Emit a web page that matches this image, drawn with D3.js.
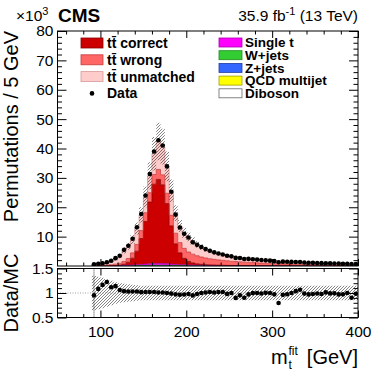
<!DOCTYPE html>
<html>
<head>
<meta charset="utf-8">
<script src="https://cdn.jsdelivr.net/npm/d3@7"></script>
<style>
body { margin: 0; background: #fff; }
svg { display: block; font-family: "Liberation Sans", Arial, Helvetica, sans-serif; }
</style>
</head>
<body>
<svg id="chart" width="374" height="379"></svg>
<script>
// binning of m_t^fit (GeV), values in units of 10^3 permutations
var binLow = 90, binWidth = 5;

var dataVals = [0.60, 0.78, 0.96, 1.29, 1.79, 2.68, 3.50, 5.50, 6.90, 9.27,
    13.2, 17.7, 24.0, 31.3, 39.0, 42.8, 41.0, 33.9, 25.3, 17.5,
    13.1, 10.96, 9.70, 8.08, 7.20, 6.45, 5.76, 5.20, 4.65, 4.28,
    3.93, 3.48, 3.28, 2.75, 2.70, 2.39, 2.41, 2.32, 2.18, 2.03,
    1.93, 1.82, 1.67, 1.30, 1.48, 1.43, 1.39, 1.37, 1.34, 1.19,
    1.11, 1.07, 1.03, 0.97, 0.96, 0.90, 0.87, 0.81, 0.78, 0.77,
    0.67, 0.70];

var ttCorrect = [0.01, 0.01, 0.02, 0.03, 0.05, 0.08, 0.15, 0.40, 1.00, 2.30,
    4.60, 8.80, 14.5, 21.0, 27.0, 28.6, 26.8, 20.5, 13.0, 7.00,
    4.00, 2.20, 1.20, 0.70, 0.45, 0.30, 0.20, 0.15, 0.12, 0.10,
    0.08, 0.06, 0.05, 0.04, 0.03, 0.02, 0.02, 0.02, 0.02, 0.02,
    0.01, 0.01, 0.01, 0.01, 0.01, 0.01, 0.01, 0.01, 0.01, 0.01,
    0.01, 0.01, 0.01, 0.01, 0.01, 0.01, 0.01, 0.01, 0.01, 0.01,
    0.01, 0.01];

var ttWrong = [0.10, 0.12, 0.15, 0.20, 0.30, 0.45, 0.65, 0.95, 1.30, 1.80,
    2.30, 2.70, 3.00, 3.20, 3.30, 3.40, 3.40, 3.50, 3.60, 3.60,
    3.50, 3.40, 3.20, 3.00, 2.75, 2.50, 2.30, 2.10, 1.95, 1.80,
    1.68, 1.57, 1.45, 1.36, 1.27, 1.19, 1.11, 1.04, 0.97, 0.91,
    0.85, 0.80, 0.75, 0.70, 0.66, 0.62, 0.58, 0.55, 0.52, 0.49,
    0.46, 0.43, 0.41, 0.39, 0.37, 0.35, 0.33, 0.31, 0.30, 0.28,
    0.27, 0.26];

var ttUnmatched = [0.49, 0.56, 0.61, 0.78, 1.18, 1.72, 2.35, 3.75, 4.14, 4.55,
    5.46, 5.35, 5.35, 5.75, 7.06, 9.53, 9.56, 9.15, 8.35, 6.85,
    5.64, 5.29, 5.14, 4.48, 3.86, 3.39, 2.97, 2.65, 2.34, 2.13,
    1.93, 1.77, 1.65, 1.53, 1.42, 1.33, 1.25, 1.17, 1.10, 1.04,
    0.99, 0.94, 0.89, 0.86, 0.81, 0.78, 0.75, 0.71, 0.68, 0.66,
    0.63, 0.61, 0.58, 0.55, 0.53, 0.51, 0.50, 0.48, 0.46, 0.45,
    0.43, 0.41];

var singleT = [0.02, 0.02, 0.03, 0.03, 0.05, 0.07, 0.10, 0.14, 0.18, 0.24,
    0.30, 0.38, 0.45, 0.52, 0.58, 0.60, 0.58, 0.52, 0.45, 0.38,
    0.32, 0.28, 0.25, 0.22, 0.20, 0.18, 0.16, 0.14, 0.13, 0.12,
    0.11, 0.10, 0.09, 0.085, 0.08, 0.075, 0.07, 0.065, 0.06, 0.056,
    0.052, 0.049, 0.046, 0.043, 0.040, 0.038, 0.036, 0.034, 0.032, 0.031,
    0.030, 0.029, 0.028, 0.027, 0.026, 0.025, 0.024, 0.023, 0.022, 0.021,
    0.021, 0.020];

var wJets = [0.004, 0.004, 0.006, 0.006, 0.010, 0.014, 0.020, 0.028, 0.036, 0.048,
    0.060, 0.076, 0.090, 0.104, 0.116, 0.120, 0.116, 0.104, 0.090, 0.076,
    0.064, 0.056, 0.050, 0.044, 0.040, 0.036, 0.032, 0.028, 0.026, 0.024,
    0.022, 0.020, 0.018, 0.017, 0.016, 0.015, 0.014, 0.013, 0.012, 0.011,
    0.010, 0.010, 0.009, 0.009, 0.008, 0.008, 0.007, 0.007, 0.006, 0.006,
    0.006, 0.006, 0.006, 0.005, 0.005, 0.005, 0.005, 0.005, 0.004, 0.004,
    0.004, 0.004];

var zJets = [0.002, 0.002, 0.002, 0.002, 0.004, 0.006, 0.008, 0.011, 0.014, 0.019,
    0.024, 0.030, 0.036, 0.042, 0.046, 0.048, 0.046, 0.042, 0.036, 0.030,
    0.026, 0.022, 0.020, 0.018, 0.016, 0.014, 0.013, 0.011, 0.010, 0.010,
    0.009, 0.008, 0.007, 0.007, 0.006, 0.006, 0.006, 0.005, 0.005, 0.004,
    0.004, 0.004, 0.004, 0.003, 0.003, 0.003, 0.003, 0.003, 0.003, 0.002,
    0.002, 0.002, 0.002, 0.002, 0.002, 0.002, 0.002, 0.002, 0.002, 0.002,
    0.002, 0.002];

var qcd = [0.003, 0.003, 0.005, 0.005, 0.008, 0.010, 0.015, 0.020, 0.027, 0.036,
    0.045, 0.057, 0.068, 0.078, 0.087, 0.090, 0.087, 0.078, 0.068, 0.057,
    0.048, 0.042, 0.038, 0.033, 0.030, 0.027, 0.024, 0.021, 0.020, 0.018,
    0.017, 0.015, 0.014, 0.013, 0.012, 0.011, 0.011, 0.010, 0.009, 0.008,
    0.008, 0.007, 0.007, 0.006, 0.006, 0.006, 0.005, 0.005, 0.005, 0.005,
    0.004, 0.004, 0.004, 0.004, 0.004, 0.004, 0.004, 0.003, 0.003, 0.003,
    0.003, 0.003];

var diboson = [0.001, 0.001, 0.001, 0.001, 0.001, 0.002, 0.002, 0.003, 0.004, 0.005,
    0.006, 0.008, 0.009, 0.010, 0.012, 0.012, 0.012, 0.010, 0.009, 0.008,
    0.006, 0.006, 0.005, 0.004, 0.004, 0.004, 0.003, 0.003, 0.003, 0.002,
    0.002, 0.002, 0.002, 0.002, 0.002, 0.002, 0.001, 0.001, 0.001, 0.001,
    0.001, 0.001, 0.001, 0.001, 0.001, 0.001, 0.001, 0.001, 0.001, 0.001,
    0.001, 0.001, 0.001, 0.001, 0.001, 0.001, 0.001, 0.001, 0.001, 0.001,
    0.001, 0.001];

// relative uncertainty of the simulation (hatched band)
var systUnc = [0.35, 0.33, 0.31, 0.28, 0.25, 0.22, 0.20, 0.19, 0.18, 0.17,
    0.16, 0.15, 0.15, 0.15, 0.15, 0.15, 0.15, 0.15, 0.15, 0.15,
    0.15, 0.15, 0.15, 0.15, 0.15, 0.15, 0.15, 0.15, 0.15, 0.15,
    0.15, 0.15, 0.15, 0.15, 0.15, 0.15, 0.15, 0.15, 0.15, 0.15,
    0.15, 0.15, 0.15, 0.15, 0.15, 0.15, 0.15, 0.15, 0.15, 0.15,
    0.15, 0.15, 0.15, 0.15, 0.15, 0.15, 0.15, 0.15, 0.15, 0.15,
    0.15, 0.15];

// error on data/MC
var ratioErr = [0.9, 0.05, 0.04, 0.03, 0.02, 0.02, 0.02, 0.01, 0.01, 0.01,
    0.01, 0.01, 0.01, 0.01, 0.01, 0.01, 0.01, 0.01, 0.01, 0.01,
    0.01, 0.01, 0.01, 0.01, 0.01, 0.01, 0.01, 0.01, 0.01, 0.01,
    0.01, 0.01, 0.01, 0.01, 0.01, 0.01, 0.01, 0.01, 0.01, 0.01,
    0.01, 0.01, 0.01, 0.02, 0.02, 0.02, 0.02, 0.02, 0.02, 0.02,
    0.02, 0.02, 0.02, 0.02, 0.02, 0.02, 0.02, 0.02, 0.02, 0.02,
    0.02, 0.02];

var xMajor = [100, 200, 300, 400];
var yMajor = [10, 20, 30, 40, 50, 60, 70, 80];
var ratioMajor = [0.5, 1, 1.5];

var keys = ["diboson", "qcd", "zJets", "wJets", "singleT", "ttCorrect", "ttWrong", "ttUnmatched"];
var series = {
    ttCorrect: ttCorrect, ttWrong: ttWrong, ttUnmatched: ttUnmatched, singleT: singleT,
    wJets: wJets, zJets: zJets, qcd: qcd, diboson: diboson
};
var fills = {
    ttCorrect: "#cc0000", ttWrong: "#ff6666", ttUnmatched: "#ffcccc", singleT: "#ff00ff",
    wJets: "#33cc33", zJets: "#3366ff", qcd: "#ffff00", diboson: "#ffffff"
};
var strokes = {
    ttCorrect: "#8a0000", ttWrong: "#c83a3a", ttUnmatched: "#d89a9a", singleT: "#aa00aa",
    wJets: "#1c8a1c", zJets: "#1f3fa0", qcd: "#a0a000", diboson: "#666666"
};

var rows = dataVals.map(function (d, i) {
    var r = {lo: binLow + i * binWidth, data: d};
    keys.forEach(function (k) { r[k] = series[k][i]; });
    r.mc = d3.sum(keys, function (k) { return series[k][i]; });
    r.unc = systUnc[i];
    r.rerr = ratioErr[i];
    return r;
});
var binHigh = binLow + rows.length * binWidth;

var svg = d3.select("#chart");
var left = 57.5, right = 358;
var fontFam = "Liberation Sans, Arial, sans-serif";

var x = d3.scaleLinear().domain([50, 400]).range([left, right]);
var y = d3.scaleLinear().domain([0, 80]).range([266, 31]);
var yr = d3.scaleLinear().domain([0.5, 1.5]).range([317.5, 268.5]);

var defs = svg.append("defs");
defs.append("pattern")
    .attr("id", "hatch")
    .attr("patternUnits", "userSpaceOnUse")
    .attr("width", 3).attr("height", 3)
    .append("path")
    .attr("d", "M-1,1 l2,-2 M0,3 l3,-3 M2,4 l2,-2")
    .attr("stroke", "#333")
    .attr("stroke-width", 0.6);
defs.append("clipPath").attr("id", "clipTop")
    .append("rect").attr("x", left).attr("y", 31).attr("width", right - left).attr("height", 235);
defs.append("clipPath").attr("id", "clipRatio")
    .append("rect").attr("x", left).attr("y", 268.5).attr("width", right - left).attr("height", 49);

// step points with an extra point at the last upper edge
function stepPoints(fn) {
    var pts = rows.map(function (r, i) { return fn(r, i, r.lo); });
    var last = rows[rows.length - 1];
    pts.push(fn(last, rows.length - 1, binHigh));
    return pts;
}

// ---- upper panel ----
var gTop = svg.append("g").attr("clip-path", "url(#clipTop)");
var stacked = d3.stack().keys(keys)(rows);

var band = d3.area().curve(d3.curveStepAfter)
    .x(function (p) { return x(p.e); })
    .y0(function (p) { return y(p.a); })
    .y1(function (p) { return y(p.b); });
var edge = d3.line().curve(d3.curveStepAfter)
    .x(function (p) { return x(p.e); })
    .y(function (p) { return y(p.b); });

stacked.forEach(function (layer) {
    var pts = stepPoints(function (r, i, e) { return {e: e, a: layer[i][0], b: layer[i][1]}; });
    gTop.append("path")
        .attr("d", band(pts))
        .attr("fill", fills[layer.key]);
});
stacked.forEach(function (layer) {
    var pts = stepPoints(function (r, i, e) { return {e: e, a: layer[i][0], b: layer[i][1]}; });
    gTop.append("path")
        .attr("d", edge(pts))
        .attr("fill", "none")
        .attr("stroke", strokes[layer.key])
        .attr("stroke-width", 0.8);
});

// uncertainty band
gTop.append("path")
    .attr("d", band(stepPoints(function (r, i, e) {
        return {e: e, a: r.mc * (1 - r.unc), b: r.mc * (1 + r.unc)};
    })))
    .attr("fill", "url(#hatch)");

gTop.selectAll(".dot")
    .data(rows)
    .enter()
    .append("circle")
    .attr("class", "dot")
    .attr("cx", function (d) { return x(d.lo + binWidth / 2); })
    .attr("cy", function (d) { return y(d.data); })
    .attr("r", 2.3)
    .attr("fill", "black");

// ---- ratio panel ----
var gRat = svg.append("g").attr("clip-path", "url(#clipRatio)");
var rband = d3.area().curve(d3.curveStepAfter)
    .x(function (p) { return x(p.e); })
    .y0(function (p) { return yr(p.a); })
    .y1(function (p) { return yr(p.b); });

gRat.append("path")
    .attr("d", rband(stepPoints(function (r, i, e) { return {e: e, a: 1 - r.unc, b: 1 + r.unc}; })))
    .attr("fill", "url(#hatch)");

gRat.append("line")
    .attr("x1", left).attr("x2", right)
    .attr("y1", yr(1)).attr("y2", yr(1))
    .attr("stroke", "#888")
    .attr("stroke-width", 0.8)
    .attr("stroke-dasharray", "1,1.5");

gRat.selectAll(".rerr")
    .data(rows)
    .enter()
    .append("line")
    .attr("class", "rerr")
    .attr("x1", function (d) { return x(d.lo + binWidth / 2); })
    .attr("x2", function (d) { return x(d.lo + binWidth / 2); })
    .attr("y1", function (d) { return yr(d.data / d.mc - d.rerr); })
    .attr("y2", function (d) { return yr(d.data / d.mc + d.rerr); })
    .attr("stroke", "black")
    .attr("stroke-width", 0.8)
    .attr("stroke-dasharray", function (d) { return d.rerr > 0.3 ? "1,1" : null; });

gRat.selectAll(".rdot")
    .data(rows)
    .enter()
    .append("circle")
    .attr("class", "rdot")
    .attr("cx", function (d) { return x(d.lo + binWidth / 2); })
    .attr("cy", function (d) { return yr(d.data / d.mc); })
    .attr("r", 2.3)
    .attr("fill", "black");

// ---- frames and ticks ----
var xMinor = d3.range(60, 401, 20).filter(function (v) { return xMajor.indexOf(v) < 0; });

function frame(yScale, y0, y1, yMaj, yMin, yFmt, xLabels) {
    var g = svg.append("g");
    g.append("g").attr("transform", "translate(" + left + ",0)")
        .call(d3.axisLeft(yScale).tickValues(yMaj).tickSize(-9).tickPadding(4).tickFormat(yFmt));
    g.append("g").attr("transform", "translate(" + left + ",0)")
        .call(d3.axisLeft(yScale).tickValues(yMin).tickSize(-4.5).tickFormat(""));
    g.append("g").attr("transform", "translate(" + right + ",0)")
        .call(d3.axisRight(yScale).tickValues(yMaj).tickSize(-9).tickFormat(""));
    g.append("g").attr("transform", "translate(" + right + ",0)")
        .call(d3.axisRight(yScale).tickValues(yMin).tickSize(-4.5).tickFormat(""));
    g.append("g").attr("transform", "translate(0," + y1 + ")")
        .call(d3.axisBottom(x).tickValues(xMajor).tickSize(-7).tickPadding(8)
            .tickFormat(xLabels ? d3.format("d") : ""));
    g.append("g").attr("transform", "translate(0," + y1 + ")")
        .call(d3.axisBottom(x).tickValues(xMinor).tickSize(-3.5).tickFormat(""));
    g.append("g").attr("transform", "translate(0," + y0 + ")")
        .call(d3.axisTop(x).tickValues(xMajor).tickSize(-7).tickFormat(""));
    g.append("g").attr("transform", "translate(0," + y0 + ")")
        .call(d3.axisTop(x).tickValues(xMinor).tickSize(-3.5).tickFormat(""));
    g.selectAll(".domain").remove();
    g.selectAll("g")
        .attr("font-size", "15.5px")
        .attr("font-family", fontFam);
    g.selectAll("text").attr("fill", "black");
    g.append("rect")
        .attr("x", left).attr("y", y0)
        .attr("width", right - left).attr("height", y1 - y0)
        .attr("fill", "none").attr("stroke", "black").attr("stroke-width", 1);
}

frame(y, 31, 266, yMajor, d3.range(2, 80, 2).filter(function (v) { return v % 10; }),
    d3.format("d"), false);
frame(yr, 268.5, 317.5, ratioMajor, d3.range(0.6, 1.5, 0.1).filter(function (v) {
    return Math.abs(v - 1) > 0.01;
}), function (d) { return d; }, true);

// ---- texts ----
svg.append("text")
    .attr("x", 16).attr("y", 20.5)
    .attr("font-size", "15.5px")
    .text("\u00d710")
    .append("tspan").attr("dy", -6).attr("font-size", "11px").text("3");

svg.append("text")
    .attr("x", 58).attr("y", 22)
    .attr("font-size", "19px").attr("font-weight", "bold")
    .text("CMS");

var lumi = svg.append("text")
    .attr("x", 358).attr("y", 21)
    .attr("text-anchor", "end")
    .attr("font-size", "15.5px");
lumi.append("tspan").text("35.9 fb");
lumi.append("tspan").attr("dy", -6).attr("font-size", "11px").text("-1");
lumi.append("tspan").attr("dy", 6).text(" (13 TeV)");

svg.append("text")
    .attr("transform", "translate(18,31) rotate(-90)")
    .attr("text-anchor", "end")
    .attr("font-size", "20px")
    .text("Permutations / 5 GeV");

svg.append("text")
    .attr("transform", "translate(18,293) rotate(-90)")
    .attr("text-anchor", "middle")
    .attr("font-size", "20px")
    .text("Data/MC");

svg.append("text").attr("x", 358).attr("y", 364).attr("text-anchor", "end")
    .attr("font-size", "20px").text("[GeV]");
svg.append("text").attr("x", 271).attr("y", 364).attr("font-size", "20px").text("m");
svg.append("text").attr("x", 288.5).attr("y", 355).attr("font-size", "12px").text("fit");
svg.append("text").attr("x", 288.5).attr("y", 369).attr("font-size", "12px").text("t");

// ---- legend ----
var legLeft = [
    {label: "tt\u0304 correct", key: "ttCorrect"},
    {label: "tt\u0304 wrong", key: "ttWrong"},
    {label: "tt\u0304 unmatched", key: "ttUnmatched"},
    {label: "Data", key: null}
];
var legRight = [
    {label: "Single t", key: "singleT"},
    {label: "W+jets", key: "wJets"},
    {label: "Z+jets", key: "zJets"},
    {label: "QCD multijet", key: "qcd"},
    {label: "Diboson", key: "diboson"}
];

legLeft.forEach(function (e, i) {
    var cy = 43 + i * 16.8;
    if (e.key) {
        svg.append("rect")
            .attr("x", 81).attr("y", cy - 5)
            .attr("width", 22).attr("height", 10)
            .attr("fill", fills[e.key]).attr("stroke", strokes[e.key]).attr("stroke-width", 0.8);
    } else {
        svg.append("circle").attr("cx", 92).attr("cy", cy).attr("r", 2.3).attr("fill", "black");
    }
    svg.append("text")
        .attr("x", 107).attr("y", cy + 5)
        .attr("font-size", "14px").attr("font-weight", "bold")
        .text(e.label);
});

legRight.forEach(function (e, i) {
    var cy = 42.5 + i * 12.7;
    svg.append("rect")
        .attr("x", 219).attr("y", cy - 4.5)
        .attr("width", 23).attr("height", 9)
        .attr("fill", fills[e.key]).attr("stroke", strokes[e.key]).attr("stroke-width", 0.8);
    svg.append("text")
        .attr("x", 245).attr("y", cy + 4.8)
        .attr("font-size", "13.5px").attr("font-weight", "bold")
        .text(e.label);
});
</script>
</body>
</html>
